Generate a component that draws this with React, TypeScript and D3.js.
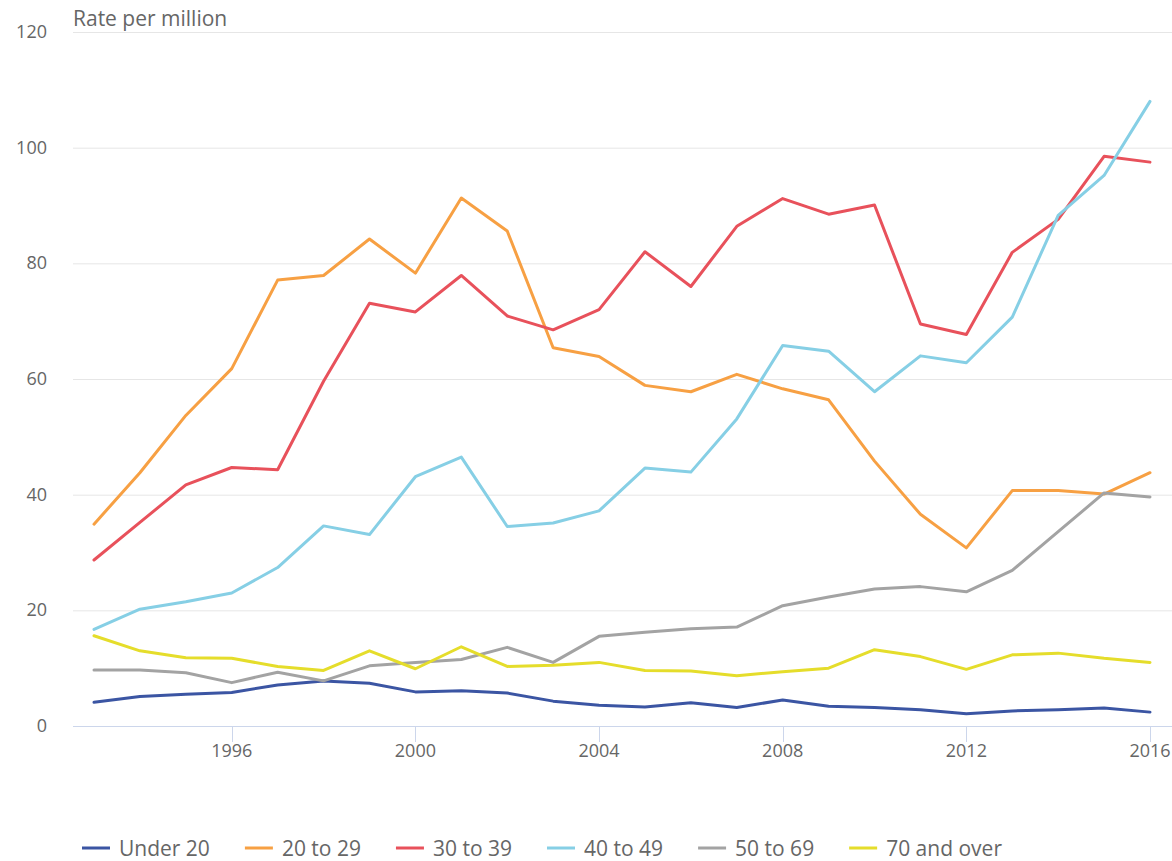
import React, { useEffect, useRef } from "react";
import * as d3 from "d3";

const years = [1993, 1994, 1995, 1996, 1997, 1998, 1999, 2000, 2001, 2002, 2003, 2004, 2005, 2006, 2007, 2008, 2009, 2010, 2011, 2012, 2013, 2014, 2015, 2016];
const xTicks = [1996, 2000, 2004, 2008, 2012, 2016];
const yTicks = [0, 20, 40, 60, 80, 100, 120];

const under20 = [4.1, 5.1, 5.5, 5.8, 7.1, 7.8, 7.4, 5.9, 6.1, 5.7, 4.3, 3.6, 3.3, 4.0, 3.2, 4.5, 3.4, 3.2, 2.8, 2.1, 2.6, 2.8, 3.1, 2.4];
const age20to29 = [34.9, 43.8, 53.7, 61.8, 77.1, 77.9, 84.2, 78.3, 91.3, 85.6, 65.4, 63.9, 58.9, 57.8, 60.8, 58.3, 56.4, 45.8, 36.6, 30.8, 40.7, 40.7, 40.1, 43.8];
const age30to39 = [28.7, 35.2, 41.7, 44.7, 44.3, 59.6, 73.1, 71.6, 77.9, 70.9, 68.5, 72.0, 82.0, 76.0, 86.4, 91.2, 88.5, 90.1, 69.5, 67.7, 81.9, 87.6, 98.5, 97.5];
const age40to49 = [16.7, 20.2, 21.5, 23.0, 27.4, 34.6, 33.1, 43.1, 46.5, 34.5, 35.1, 37.2, 44.6, 43.9, 53.1, 65.8, 64.8, 57.8, 64.0, 62.8, 70.7, 88.3, 95.2, 108.0];
const age50to69 = [9.7, 9.7, 9.2, 7.5, 9.3, 7.8, 10.4, 11.0, 11.5, 13.6, 11.0, 15.5, 16.2, 16.8, 17.1, 20.8, 22.3, 23.7, 24.1, 23.2, 26.9, 33.6, 40.3, 39.6];
const age70plus = [15.6, 13.0, 11.8, 11.7, 10.3, 9.6, 13.0, 9.9, 13.7, 10.3, 10.5, 11.0, 9.6, 9.5, 8.7, 9.4, 10.0, 13.2, 12.0, 9.8, 12.3, 12.6, 11.7, 11.0];

const seriesNames = ["Under 20", "20 to 29", "30 to 39", "40 to 49", "50 to 69", "70 and over"];
const seriesValues = [under20, age20to29, age30to39, age40to49, age50to69, age70plus];
const seriesColors = ["#3b55a3", "#f7a043", "#e8515b", "#86cfe5", "#a3a3a3", "#e5dd2b"];

const W = 1172;
const H = 861;
const FONT = "'Open Sans', sans-serif";

export default function App() {
  const ref = useRef<SVGSVGElement | null>(null);

  useEffect(() => {
    const svg = d3.select(ref.current);
    svg.selectAll("*").remove();

    const x = d3.scaleLinear().domain([1993, 2016]).range([94, 1150]);
    const y = d3.scaleLinear().domain([0, 120]).range([726, 32]);
    const plotLeft = 73;
    const plotRight = W;

    // gridlines
    svg.append("g")
      .selectAll("line")
      .data(yTicks.filter((t) => t !== 0))
      .join("line")
      .attr("x1", plotLeft)
      .attr("x2", plotRight)
      .attr("y1", (d) => y(d) + 0.5)
      .attr("y2", (d) => y(d) + 0.5)
      .attr("stroke", "#e6e6e6")
      .attr("stroke-width", 1);

    // y labels
    svg.append("g")
      .selectAll("text")
      .data(yTicks)
      .join("text")
      .attr("x", 47)
      .attr("y", (d) => y(d) + 6)
      .attr("text-anchor", "end")
      .attr("font-family", FONT)
      .attr("font-size", 18)
      .attr("fill", "#666666")
      .text((d) => String(d));

    // title
    svg.append("text")
      .attr("x", 73)
      .attr("y", 26)
      .attr("font-family", FONT)
      .attr("font-size", 21)
      .attr("fill", "#666666")
      .text("Rate per million");

    // x axis line
    svg.append("line")
      .attr("x1", plotLeft)
      .attr("x2", plotRight)
      .attr("y1", y(0) + 0.5)
      .attr("y2", y(0) + 0.5)
      .attr("stroke", "#ccd6eb")
      .attr("stroke-width", 1);

    const xg = svg.append("g");
    xg.selectAll("line")
      .data(xTicks)
      .join("line")
      .attr("x1", (d) => Math.round(x(d)) + 0.5)
      .attr("x2", (d) => Math.round(x(d)) + 0.5)
      .attr("y1", y(0))
      .attr("y2", y(0) + 16)
      .attr("stroke", "#ccd6eb")
      .attr("stroke-width", 1);
    xg.selectAll("text")
      .data(xTicks)
      .join("text")
      .attr("x", (d) => x(d))
      .attr("y", 757)
      .attr("text-anchor", "middle")
      .attr("font-family", FONT)
      .attr("font-size", 18)
      .attr("fill", "#666666")
      .text((d) => String(d));

    // lines
    const line = d3
      .line<number>()
      .x((_, i) => x(years[i]))
      .y((d) => y(d));

    svg.append("g")
      .selectAll("path")
      .data(seriesValues)
      .join("path")
      .attr("d", (d) => line(d) || "")
      .attr("fill", "none")
      .attr("stroke", (_, i) => seriesColors[i])
      .attr("stroke-width", 3)
      .attr("stroke-linejoin", "round")
      .attr("stroke-linecap", "round");

    // legend
    const lg = svg.append("g");
    let cx = 82;
    const ly = 848;
    seriesNames.forEach((name, i) => {
      lg.append("line")
        .attr("x1", cx)
        .attr("x2", cx + 28)
        .attr("y1", ly)
        .attr("y2", ly)
        .attr("stroke", seriesColors[i])
        .attr("stroke-width", 3);
      const t = lg.append("text")
        .attr("x", cx + 37)
        .attr("y", ly + 8)
        .attr("font-family", FONT)
        .attr("font-size", 21)
        .attr("fill", "#666666")
        .text(name);
      const w = (t.node() as SVGTextElement).getComputedTextLength();
      cx = cx + 37 + w + 35;
    });
  }, []);

  return (
    <svg
      ref={ref}
      width={W}
      height={H}
      style={{ position: "absolute", left: 0, top: 0, background: "#ffffff" }}
    />
  );
}
